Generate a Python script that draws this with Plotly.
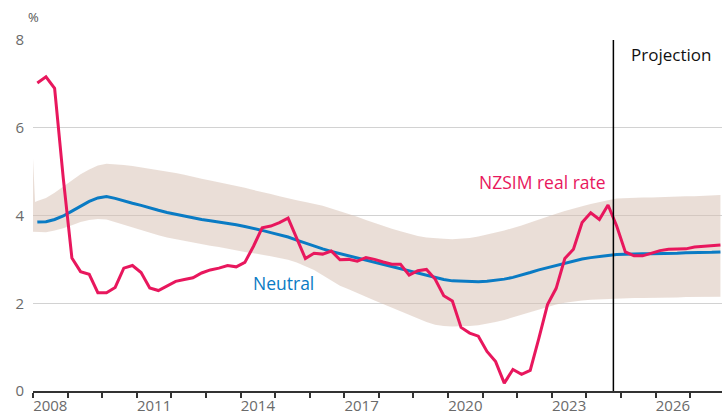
import plotly.graph_objects as go

# ---------------- data ----------------
# quarterly observations (plotted at mid-quarter), 2008Q1 .. 2027Q4
quarters = [y + (q - 0.5) / 4 for y in range(2008, 2028) for q in range(1, 5)]

nzsim_real_rate = [
    7.02, 7.16, 6.90, 4.85, 3.03, 2.72, 2.66, 2.24, 2.24, 2.36, 2.80, 2.86,
    2.70, 2.35, 2.29, 2.40, 2.50, 2.54, 2.58, 2.69, 2.76, 2.80, 2.86, 2.83,
    2.93, 3.30, 3.72, 3.76, 3.84, 3.94, 3.48, 3.02, 3.14, 3.12, 3.19, 2.99,
    3.00, 2.96, 3.04, 3.00, 2.94, 2.89, 2.89, 2.64, 2.74, 2.77, 2.55, 2.17,
    2.05, 1.45, 1.32, 1.25, 0.90, 0.67, 0.18, 0.49, 0.38, 0.47, 1.20, 1.97,
    2.34, 3.02, 3.23, 3.84, 4.06, 3.91, 4.24, 3.76, 3.17, 3.08, 3.08, 3.14,
    3.20, 3.23, 3.24, 3.24, 3.28, 3.30, 3.31, 3.33,
]

neutral = [
    3.85, 3.86, 3.91, 3.99, 4.10, 4.22, 4.32, 4.40, 4.43, 4.39, 4.33, 4.28,
    4.23, 4.17, 4.12, 4.07, 4.03, 3.98, 3.94, 3.91, 3.88, 3.85, 3.83, 3.79,
    3.75, 3.71, 3.66, 3.61, 3.56, 3.51, 3.44, 3.37, 3.30, 3.24, 3.18, 3.13,
    3.08, 3.03, 2.98, 2.93, 2.88, 2.83, 2.78, 2.73, 2.68, 2.63, 2.58, 2.54,
    2.51, 2.50, 2.49, 2.49, 2.50, 2.52, 2.55, 2.59, 2.64, 2.70, 2.76, 2.81,
    2.87, 2.92, 2.97, 3.01, 3.04, 3.07, 3.09, 3.11, 3.12, 3.12, 3.13, 3.13,
    3.13, 3.14, 3.14, 3.15, 3.15, 3.16, 3.16, 3.17,
]

# uncertainty band around the neutral rate (two extra points at the start)
band_start_dates = [2008.0, 2008.06]
band_start_upper = [5.30, 4.31]
band_start_lower = [3.63, 3.63]

band_upper = [
    4.33, 4.40, 4.52, 4.66, 4.80, 4.94, 5.05, 5.14, 5.18, 5.17, 5.15, 5.13,
    5.10, 5.07, 5.04, 5.01, 4.97, 4.93, 4.88, 4.84, 4.80, 4.76, 4.72, 4.67,
    4.63, 4.58, 4.54, 4.49, 4.44, 4.39, 4.35, 4.31, 4.27, 4.22, 4.16, 4.10,
    4.04, 3.97, 3.90, 3.83, 3.76, 3.70, 3.64, 3.58, 3.53, 3.50, 3.48, 3.47,
    3.46, 3.47, 3.49, 3.52, 3.56, 3.61, 3.66, 3.71, 3.77, 3.84, 3.91, 3.97,
    4.04, 4.10, 4.16, 4.21, 4.26, 4.31, 4.35, 4.39, 4.40, 4.40, 4.41, 4.41,
    4.42, 4.42, 4.43, 4.44, 4.44, 4.45, 4.46, 4.47,
]

band_lower = [
    3.63, 3.62, 3.66, 3.71, 3.78, 3.85, 3.90, 3.92, 3.91, 3.85, 3.78, 3.72,
    3.66, 3.60, 3.55, 3.50, 3.46, 3.42, 3.38, 3.34, 3.31, 3.28, 3.24, 3.20,
    3.17, 3.14, 3.11, 3.07, 3.03, 2.99, 2.93, 2.85, 2.76, 2.64, 2.51, 2.40,
    2.32, 2.24, 2.15, 2.06, 1.98, 1.90, 1.82, 1.73, 1.65, 1.57, 1.51, 1.48,
    1.47, 1.47, 1.48, 1.50, 1.53, 1.57, 1.62, 1.68, 1.74, 1.80, 1.86, 1.92,
    1.97, 2.01, 2.04, 2.06, 2.08, 2.09, 2.10, 2.11, 2.11, 2.12, 2.12, 2.12,
    2.13, 2.13, 2.13, 2.14, 2.14, 2.14, 2.15, 2.15,
]

projection_start = 2024.78

year_ticks = [2008, 2011, 2014, 2017, 2020, 2023, 2026]
year_labels = [str(y) for y in year_ticks]
y_ticks = [0, 2, 4, 6, 8]

# ---------------- styling ----------------
RED = "#E8175D"
BLUE = "#0A7BC4"
BAND = "rgba(214,192,178,0.52)"
FONT = "Open Sans"
TICK_GRAY = "#6a6a6a"

fig = go.Figure()

band_x = band_start_dates + quarters
fig.add_trace(go.Scatter(
    x=band_x, y=band_start_lower + band_lower, mode="lines",
    line=dict(width=0), hoverinfo="skip", showlegend=False,
))
fig.add_trace(go.Scatter(
    x=band_x, y=band_start_upper + band_upper, mode="lines",
    line=dict(width=0), fill="tonexty", fillcolor=BAND,
    hoverinfo="skip", showlegend=False,
))
fig.add_trace(go.Scatter(
    x=quarters, y=neutral, mode="lines",
    line=dict(color=BLUE, width=3), showlegend=False, name="Neutral",
))
fig.add_trace(go.Scatter(
    x=quarters, y=nzsim_real_rate, mode="lines",
    line=dict(color=RED, width=3), showlegend=False, name="NZSIM real rate",
))

fig.add_shape(type="line", xref="x", yref="y",
              x0=projection_start, x1=projection_start, y0=0, y1=8,
              line=dict(color="black", width=1.5), layer="above")

fig.add_annotation(x=2008, y=8, yshift=23, text="%", showarrow=False,
                   font=dict(family=FONT, size=13, color="#555"),
                   xanchor="center", yanchor="middle")
fig.add_annotation(x=2025.23, y=7.66, text="Projection", showarrow=False,
                   font=dict(family=FONT, size=17, color="#111"),
                   xanchor="left", yanchor="middle")
fig.add_annotation(x=2024.63, y=4.76, text="NZSIM real rate", showarrow=False,
                   font=dict(family=FONT, size=17.5, color=RED),
                   xanchor="right", yanchor="middle")
fig.add_annotation(x=2014.31, y=2.46, text="Neutral", showarrow=False,
                   font=dict(family=FONT, size=17.5, color=BLUE),
                   xanchor="left", yanchor="middle")

fig.update_layout(
    width=722, height=418,
    margin=dict(l=33, r=0, t=40, b=27),
    paper_bgcolor="white", plot_bgcolor="white",
    font=dict(family=FONT, color=TICK_GRAY),
    showlegend=False,
)

fig.update_xaxes(
    range=[2008, 2027.92],
    tickmode="array", tickvals=[y + 0.5 for y in year_ticks], ticktext=year_labels,
    ticks="", showgrid=False, zeroline=False,
    showline=True, linecolor="#333", linewidth=1.5,
    tickfont=dict(family=FONT, size=15, color=TICK_GRAY),
    minor=dict(tick0=2008, dtick=1, ticks="outside", ticklen=5,
               tickcolor="#333", tickwidth=1.5, showgrid=False),
    fixedrange=True,
)
fig.update_yaxes(
    range=[0, 8], tickmode="array", tickvals=y_ticks,
    ticktext=[str(v) for v in y_ticks],
    showgrid=True, gridcolor="#d2d2d2", gridwidth=1,
    zeroline=False, showline=False, ticks="",
    ticklabelstandoff=8,
    tickfont=dict(family=FONT, size=15, color=TICK_GRAY),
    fixedrange=True,
)

fig.write_html("out.html", config={"displayModeBar": False},
               post_script="document.body.style.margin='0';")
